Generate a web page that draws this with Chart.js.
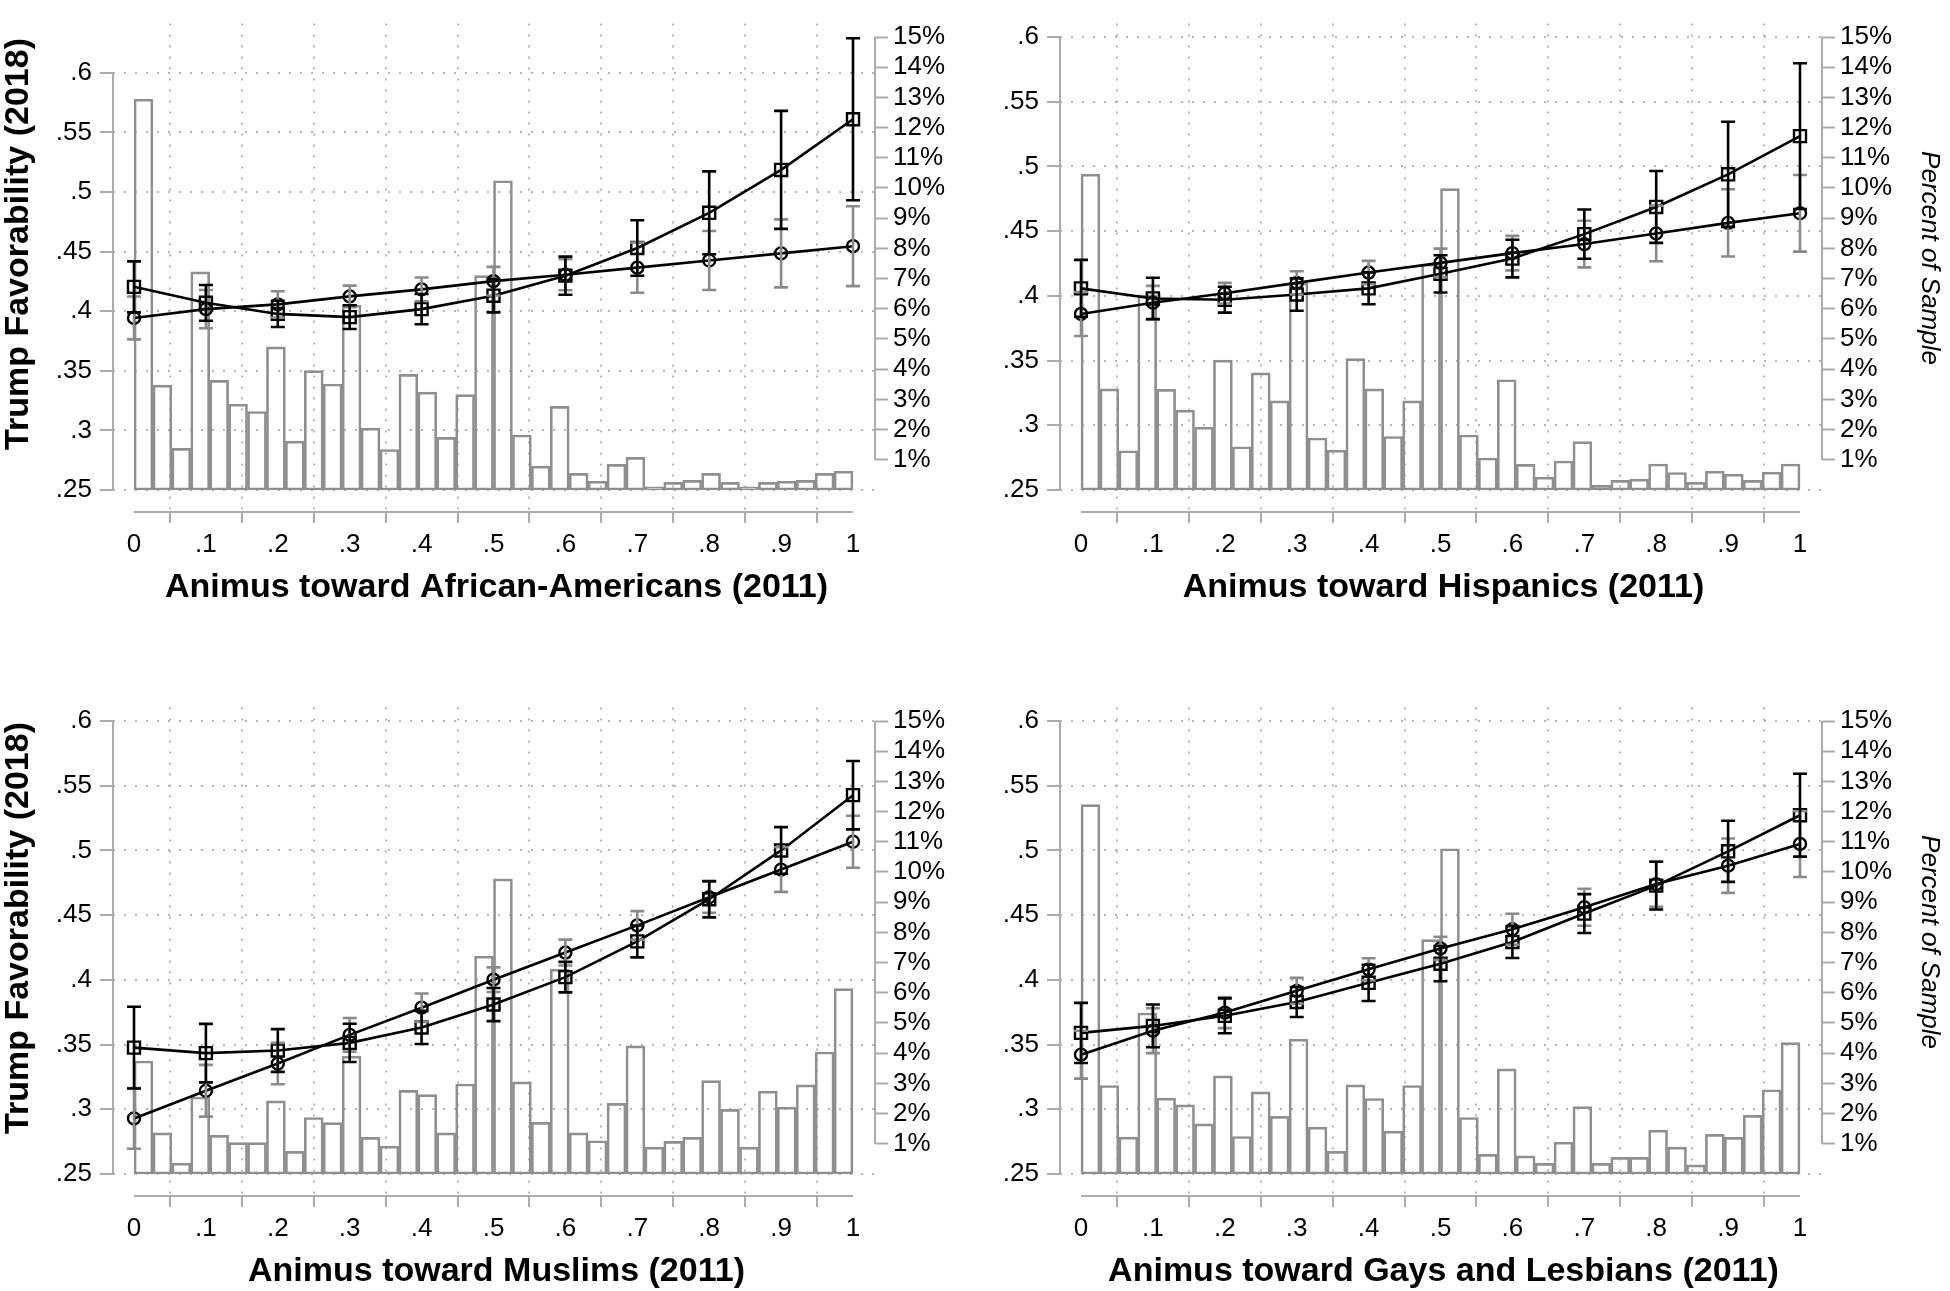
<!DOCTYPE html>
<html>
<head>
<meta charset="utf-8">
<script src="https://cdn.jsdelivr.net/npm/chart.js@4.4.1/dist/chart.umd.min.js"></script>
<style>
    html, body { margin: 0; padding: 0; background: #fff; }
    #page { position: relative; width: 1950px; height: 1291px; overflow: hidden; background: #fff; }
    .panel { position: absolute; width: 1003px; height: 645px; }
</style>
</head>
<body>
<div id="page">
    <div class="panel" style="left:0;top:0"><canvas id="pBlack" width="1003" height="645"></canvas></div>
    <div class="panel" style="left:947px;top:0"><canvas id="pHisp" width="1003" height="645"></canvas></div>
    <div class="panel" style="left:0;top:684px"><canvas id="pMusl" width="1003" height="645"></canvas></div>
    <div class="panel" style="left:947px;top:684px"><canvas id="pGay" width="1003" height="645"></canvas></div>
</div>
<script>
// ---- axis ticks ----
const animusTicks = [0, .1, .2, .3, .4, .5, .6, .7, .8, .9, 1];
const favTicks = [.25, .3, .35, .4, .45, .5, .55, .6];
const pctTicks = [1, 2, 3, 4, 5, 6, 7, 8, 9, 10, 11, 12, 13, 14, 15];

// ---- histogram: 38 bins over 0..1, percent of sample ----
const histBlack = [12.94, 3.47, 1.38, 7.22, 3.63, 2.84, 2.60, 4.74, 1.62, 3.95, 3.51, 6.12, 2.05, 1.34, 3.83, 3.24, 1.74, 3.16, 7.10, 10.24,
    1.82, 0.79, 2.77, 0.55, 0.29, 0.85, 1.08, 0.10, 0.25, 0.32, 0.55, 0.25, 0.10, 0.25, 0.29, 0.32, 0.55, 0.62];
const histHisp = [10.46, 3.35, 1.30, 6.46, 3.33, 2.64, 2.08, 4.30, 1.43, 3.88, 2.95, 6.86, 1.72, 1.32, 4.35, 3.35, 1.77, 2.95, 7.48, 9.98,
    1.82, 1.06, 3.65, 0.85, 0.42, 0.96, 1.60, 0.16, 0.32, 0.36, 0.86, 0.58, 0.25, 0.62, 0.52, 0.32, 0.59, 0.86];
const histMusl = [3.74, 1.36, 0.36, 2.55, 1.28, 1.04, 1.04, 2.42, 0.75, 1.87, 1.70, 3.90, 1.21, 0.92, 2.77, 2.63, 1.36, 2.98, 7.21, 9.77,
    3.05, 1.71, 6.78, 1.36, 1.10, 2.34, 4.24, 0.89, 1.08, 1.21, 3.09, 2.14, 0.89, 2.74, 2.21, 2.95, 4.04, 6.14];
const histGay = [12.23, 2.93, 1.22, 5.33, 2.51, 2.29, 1.66, 3.25, 1.24, 2.72, 1.91, 4.46, 1.55, 0.75, 2.95, 2.50, 1.42, 2.93, 7.76, 10.77,
    1.87, 0.65, 3.48, 0.60, 0.35, 1.05, 2.23, 0.35, 0.55, 0.55, 1.45, 0.89, 0.30, 1.31, 1.21, 1.94, 2.79, 4.35];

// ---- predicted favorability (squares / circles) with 95% CI half widths ----
const blackSquare = [.4204, .407, .3977, .395, .4017, .413, .4298, .453, .4825, .5185, .561];
const blackSquareCI = [.0214, .015, .011, .010, .0127, .014, .016, .0233, .0348, .0495, .068];
const blackCircle = [.3943, .4017, .4057, .4124, .4183, .4252, .4305, .4365, .4425, .4485, .4545];
const blackCircleCI = [.018, .016, .011, .009, .010, .012, .013, .021, .0248, .0285, .0335];

const hispSquare = [.4058, .398, .397, .401, .4058, .417, .4288, .4477, .4687, .4939, .5234];
const hispSquareCI = [.022, .016, .010, .0125, .0123, .0144, .0145, .019, .0278, .0406, .0563];
const hispCircle = [.386, .3947, .402, .410, .418, .4255, .433, .44, .4482, .4564, .4638];
const hispCircleCI = [.017, .013, .008, .009, .009, .011, .0133, .018, .0215, .026, .0296];

const muslSquare = [.3476, .3434, .3454, .3513, .3632, .3809, .4021, .4297, .4623, .5000, .5427];
const muslSquareCI = [.0316, .0226, .0165, .0148, .0128, .0128, .0118, .0123, .014, .018, .0264];
const muslCircle = [.2929, .3143, .3353, .3575, .3785, .4001, .4211, .4421, .4638, .4852, .5067];
const muslCircleCI = [.0234, .02, .016, .013, .011, .0095, .01, .011, .012, .0172, .0201];

const gaySquare = [.359, .3644, .3722, .3829, .3977, .4125, .4292, .4512, .4728, .4993, .5272];
const gaySquareCI = [.0232, .0165, .0135, .0116, .014, .0136, .0123, .015, .0185, .0236, .032];
const gayCircle = [.3422, .3607, .3747, .3915, .4081, .4243, .4391, .4561, .474, .4882, .505];
const gayCircleCI = [.0185, .0173, .012, .010, .0086, .009, .012, .0143, .0175, .021, .0255];

const FONT = "'Liberation Sans', Arial, Helvetica, sans-serif";
const AXIS_GRAY = "#ababab";
const BAR_GRAY = "#8f8f8f";
const GRID = "#b4b4b4";

// panel geometry (pixels inside each canvas)
const AREA_LEFT = 113, AREA_RIGHT = 875, AREA_TOP = 2, AREA_BOTTOM = 512;
const X0 = 134, X1 = 853, BASE = 489, TOPV = 16;

function fmtFav(v) {
    return String(+v.toFixed(2)).replace(/^0\./, ".");
}
function fmtAnimus(v) {
    return String(+v.toFixed(1)).replace(/^0\./, ".");
}

const errorBars = {
    id: "errorBars",
    afterDatasetsDraw(chart) {
        const ctx = chart.ctx;
        const xs = chart.scales.x, ys = chart.scales.yL;
        chart.data.datasets.forEach(ds => {
            if (!ds.ci) return;
            ctx.save();
            ctx.strokeStyle = ds.ciColor;
            ctx.lineWidth = 2.6;
            ds.data.forEach((pt, i) => {
                const px = xs.getPixelForValue(pt.x);
                const top = ys.getPixelForValue(pt.y + ds.ci[i]);
                const bot = ys.getPixelForValue(pt.y - ds.ci[i]);
                ctx.beginPath();
                ctx.moveTo(px, top); ctx.lineTo(px, bot);
                ctx.moveTo(px - 7, top); ctx.lineTo(px + 7, top);
                ctx.moveTo(px - 7, bot); ctx.lineTo(px + 7, bot);
                ctx.stroke();
            });
            ctx.restore();
        });
    }
};

const frame = {
    id: "frame",
    afterDraw(chart, args, opts) {
        const ctx = chart.ctx;
        const { x, yL, yR } = chart.scales;
        const area = chart.chartArea;
        ctx.save();
        ctx.strokeStyle = AXIS_GRAY;
        ctx.lineWidth = 2;
        ctx.beginPath();
        ctx.moveTo(area.left, yL.getPixelForValue(favTicks[0]));
        ctx.lineTo(area.left, yL.getPixelForValue(favTicks[favTicks.length - 1]));
        ctx.moveTo(area.right, yR.getPixelForValue(pctTicks[0]));
        ctx.lineTo(area.right, yR.getPixelForValue(pctTicks[pctTicks.length - 1]));
        ctx.moveTo(x.getPixelForValue(0), area.bottom);
        ctx.lineTo(x.getPixelForValue(1), area.bottom);
        ctx.stroke();

        ctx.fillStyle = "#000";
        ctx.textAlign = "center";
        ctx.textBaseline = "middle";
        ctx.font = "bold 34px " + FONT;
        ctx.fillText(opts.xTitle, x.getPixelForValue(0.5) + 3, 588);

        if (opts.leftTitle) {
            ctx.save();
            ctx.translate(19, 244);
            ctx.rotate(-Math.PI / 2);
            ctx.font = "bold 34px " + FONT;
            ctx.fillText("Trump Favorability (2018)", 0, 0);
            ctx.restore();
        }
        if (opts.rightTitle) {
            ctx.save();
            ctx.translate(982, 258);
            ctx.rotate(Math.PI / 2);
            ctx.font = "italic 26px " + FONT;
            ctx.fillText("Percent of Sample", 0, 0);
            ctx.restore();
        }
        ctx.restore();
    }
};

function renderPanel(id, xTitle, hist, square, squareCI, circle, circleCI, favTop, leftTitle, rightTitle) {
    const bins = hist.length;
    const histData = hist.map((v, i) => ({ x: (i + 0.5) / bins, y: v }));
    const pxPerX = X1 - X0;
    const pxPerFav = (BASE - TOPV) / (favTop - .25);
    const pxPerPct = (BASE - TOPV) / 15;

    const fixWidth = w => s => { s.width = w; };
    const dotted = { display: false, dash: [2, 9] };

    new Chart(document.getElementById(id), {
        type: "line",
        data: {
            datasets: [
                {
                    type: "bar",
                    data: histData,
                    yAxisID: "yR",
                    backgroundColor: "rgba(0,0,0,0)",
                    borderColor: BAR_GRAY,
                    borderWidth: 2,
                    borderSkipped: false,
                    barPercentage: 1,
                    categoryPercentage: 1,
                    order: 3
                },
                {
                    data: animusTicks.map((v, i) => ({ x: v, y: circle[i] })),
                    ci: circleCI,
                    ciColor: "#8a8a8a",
                    yAxisID: "yL",
                    borderColor: "#000",
                    borderWidth: 2.6,
                    pointStyle: "circle",
                    pointRadius: 6,
                    pointBorderWidth: 2.4,
                    pointBorderColor: "#000",
                    pointBackgroundColor: "rgba(0,0,0,0)",
                    tension: 0,
                    clip: false,
                    order: 2
                },
                {
                    data: animusTicks.map((v, i) => ({ x: v, y: square[i] })),
                    ci: squareCI,
                    ciColor: "#000",
                    yAxisID: "yL",
                    borderColor: "#000",
                    borderWidth: 2.6,
                    pointStyle: "rect",
                    pointRadius: 8.5,
                    pointBorderWidth: 2.4,
                    pointBorderColor: "#000",
                    pointBackgroundColor: "rgba(0,0,0,0)",
                    tension: 0,
                    clip: false,
                    order: 1
                }
            ]
        },
        options: {
            responsive: false,
            animation: false,
            devicePixelRatio: 1,
            layout: { padding: { top: AREA_TOP, left: 0, right: 0, bottom: 0 }, autoPadding: false },
            plugins: {
                legend: { display: false },
                tooltip: { enabled: false },
                frame: { xTitle: xTitle, leftTitle: leftTitle, rightTitle: rightTitle }
            },
            scales: {
                x: {
                    type: "linear",
                    min: -(X0 - AREA_LEFT) / pxPerX,
                    max: 1 + (AREA_RIGHT - X1) / pxPerX,
                    offset: false,
                    afterFit: s => { s.height = 645 - AREA_BOTTOM; },
                    afterBuildTicks: s => { s.ticks = animusTicks.map(v => ({ value: v })); },
                    border: dotted,
                    grid: {
                        color: GRID, lineWidth: 2,
                        tickColor: AXIS_GRAY, tickWidth: 2, tickLength: 11, tickBorderDash: []
                    },
                    ticks: {
                        color: "#000", font: { family: FONT, size: 26 }, padding: 6,
                        maxRotation: 0, autoSkip: false, callback: v => fmtAnimus(v)
                    }
                },
                yL: {
                    type: "linear",
                    position: "left",
                    min: .25 - (AREA_BOTTOM - BASE) / pxPerFav,
                    max: favTop + (TOPV - AREA_TOP) / pxPerFav,
                    afterFit: fixWidth(AREA_LEFT),
                    afterBuildTicks: s => { s.ticks = favTicks.map(v => ({ value: v })); },
                    border: dotted,
                    grid: {
                        color: GRID, lineWidth: 2,
                        tickColor: AXIS_GRAY, tickWidth: 2, tickLength: 13, tickBorderDash: []
                    },
                    ticks: {
                        color: "#000", font: { family: FONT, size: 26 }, padding: 8,
                        autoSkip: false, callback: v => fmtFav(v)
                    }
                },
                yR: {
                    type: "linear",
                    position: "right",
                    min: -(AREA_BOTTOM - BASE) / pxPerPct,
                    max: 15 + (TOPV - AREA_TOP) / pxPerPct,
                    afterFit: fixWidth(1003 - AREA_RIGHT),
                    afterBuildTicks: s => { s.ticks = pctTicks.map(v => ({ value: v })); },
                    border: { display: false },
                    grid: {
                        drawOnChartArea: false,
                        tickColor: AXIS_GRAY, tickWidth: 2, tickLength: 13
                    },
                    ticks: {
                        color: "#000", font: { family: FONT, size: 26 }, padding: 5,
                        autoSkip: false, callback: v => v + "%"
                    }
                }
            }
        },
        plugins: [errorBars, frame]
    });
}

renderPanel("pBlack", "Animus toward African-Americans (2011)", histBlack,
    blackSquare, blackSquareCI, blackCircle, blackCircleCI, .63, true, false);
renderPanel("pHisp", "Animus toward Hispanics (2011)", histHisp,
    hispSquare, hispSquareCI, hispCircle, hispCircleCI, .6, false, true);
renderPanel("pMusl", "Animus toward Muslims (2011)", histMusl,
    muslSquare, muslSquareCI, muslCircle, muslCircleCI, .6, true, false);
renderPanel("pGay", "Animus toward Gays and Lesbians (2011)", histGay,
    gaySquare, gaySquareCI, gayCircle, gayCircleCI, .6, false, true);
</script>
</body>
</html>
